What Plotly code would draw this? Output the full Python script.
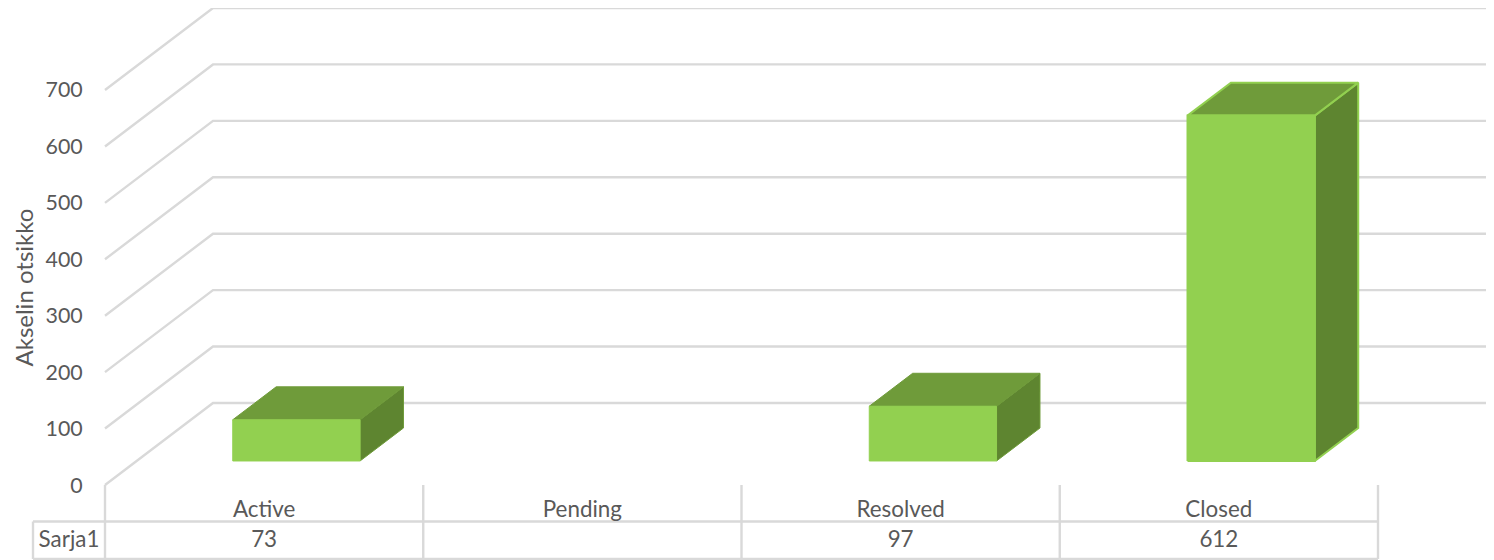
import plotly.graph_objects as go

categories = ["Active", "Pending", "Resolved", "Closed"]
values = [73, None, 97, 612]
series_name = "Sarja1"
y_ticks = [0, 100, 200, 300, 400, 500, 600, 700]
axis_title = "Akselin otsikko"

BODY = 8  # default page margin around the figure
W, H = 1494 - BODY, 560 - BODY
X0, Y0 = 105 - BODY, 485 - BODY  # figure pixels of the chart origin
CAT_PX = 318.25
VAL_PX = 0.5643
DEPTH_X = 108 / CAT_PX
DEPTH_Y = 82 / VAL_PX
BAR_W = 0.4
BAR_D0, BAR_D1 = 0.293, 0.695
BAR_SHIFT = 0.002
GRID = "#D9D9D9"
TEXT = "#595959"
FONT = "Lato, Carlito, sans-serif"
FS = 22.4


def proj(x, v, d):
    return x + d * DEPTH_X, v + d * DEPTH_Y


def px_val(p):
    return (Y0 + BODY - p) / VAL_PX


def px_x(p):
    return (p - BODY - X0) / CAT_PX


fig = go.Figure()


def line(xs, ys, width=2.4):
    fig.add_trace(go.Scatter(x=xs, y=ys, mode="lines", showlegend=False, hoverinfo="skip",
                             line=dict(color=GRID, width=width)))


def face(points, color, edge, width):
    xs = [p[0] for p in points] + [points[0][0]]
    ys = [p[1] for p in points] + [points[0][1]]
    fig.add_trace(go.Scatter(x=xs, y=ys, mode="lines", fill="toself", fillcolor=color,
                             showlegend=False, hoverinfo="skip",
                             line=dict(color=edge, width=width)))


# walls: side diagonals and back wall gridlines
n = len(categories)
for t in y_ticks:
    a, b, c = proj(0, t, 0), proj(0, t, 1), proj(n, t, 1)
    line([a[0], b[0], c[0]], [a[1], b[1], c[1]])

# bars
for i, v in enumerate(values):
    if v is None:
        continue
    x0 = i + 0.5 - BAR_W / 2 + BAR_SHIFT
    x1 = i + 0.5 + BAR_W / 2 + BAR_SHIFT
    f00, f10 = proj(x0, 0, BAR_D0), proj(x1, 0, BAR_D0)
    f01, f11 = proj(x0, v, BAR_D0), proj(x1, v, BAR_D0)
    b10, b11 = proj(x1, 0, BAR_D1), proj(x1, v, BAR_D1)
    b01 = proj(x0, v, BAR_D1)
    tall = v > 300
    edge_side = "#92D050" if tall else "#6F9B3A"
    ew = 2 if tall else 1
    face([f10, b10, b11, f11], "#5E8530", edge_side, ew)
    face([f01, f11, b11, b01], "#6F9B3A", edge_side, ew)
    face([f00, f10, f11, f01], "#92D050", "#92D050", ew)

# data table
t_top, t_bot = px_val(521.5), px_val(559)
line([px_x(33), n], [t_top, t_top])
line([px_x(33), n], [t_bot, t_bot])
line([px_x(33), px_x(33)], [t_top, t_bot])
for k in range(n + 1):
    line([k, k], [0, t_bot])

row_y = px_val(541.5)
fig.add_trace(go.Scatter(
    x=[px_x(69)] + [i + 0.5 for i in range(n)],
    y=[row_y] * (n + 1),
    text=[series_name] + ["" if v is None else str(v) for v in values],
    mode="text", textposition="middle center", showlegend=False,
    hoverinfo="skip", textfont=dict(family=FONT, size=FS, color=TEXT)))

fig.add_annotation(x=px_x(22.5), y=px_val(288), xref="x", yref="y", text=axis_title,
                   textangle=-90, showarrow=False,
                   font=dict(family=FONT, size=24, color=TEXT))

fig.update_layout(
    width=W, height=H, margin=dict(l=0, r=0, t=0, b=0, pad=0),
    paper_bgcolor="white", plot_bgcolor="white", showlegend=False,
    font=dict(family=FONT, size=FS, color=TEXT),
    xaxis=dict(range=[-X0 / CAT_PX, (W - X0) / CAT_PX], showgrid=False, zeroline=False,
               showline=False, anchor="free", position=(H - Y0) / H,
               tickmode="array", tickvals=[i + 0.5 for i in range(n)], ticktext=categories,
               ticks="outside", ticklen=4, tickcolor="rgba(0,0,0,0)", tickwidth=1,
               tickfont=dict(family=FONT, size=FS, color=TEXT)),
    yaxis=dict(range=[(Y0 - H) / VAL_PX, Y0 / VAL_PX], showgrid=False, zeroline=False,
               showline=False, anchor="free", position=X0 / W,
               tickmode="array", tickvals=y_ticks, ticktext=[str(t) for t in y_ticks],
               ticks="outside", ticklen=18, tickcolor="rgba(0,0,0,0)", tickwidth=1,
               tickfont=dict(family=FONT, size=21.4, color=TEXT)),
)
fig.write_html("out.html")
